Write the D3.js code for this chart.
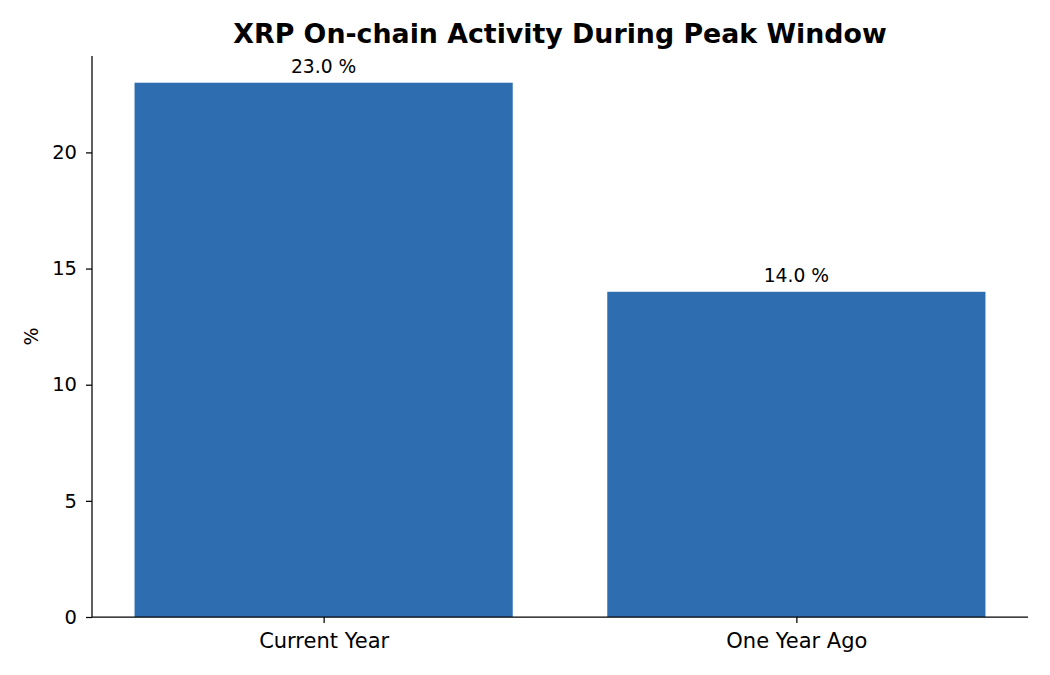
<!DOCTYPE html>
<html>
<head>
<meta charset="utf-8">
<script src="https://cdn.jsdelivr.net/npm/d3@7"></script>
<style>
  body { margin: 0; background: #fff; }
  svg { font-family: "DejaVu Sans", sans-serif; }
  .axis path, .axis line { stroke: #000; stroke-width: 1.25; }
  .axis text { fill: #000; font-family: "DejaVu Sans", sans-serif; }
  .y.axis text { font-size: 19.5px; }
  .x.axis text { font-size: 21px; }
</style>
</head>
<body>
<div id="chart"></div>
<script>
var categories = ["Current Year", "One Year Ago"];
var values = [23.0, 14.0];
var yTicks = [0, 5, 10, 15, 20];

var width = 1050, height = 675;
var margin = { top: 56, right: 22, bottom: 58, left: 92 };
var innerW = width - margin.left - margin.right,
    innerH = height - margin.top - margin.bottom;

var svg = d3.select("#chart")
  .append("svg")
  .attr("width", width)
  .attr("height", height);

var g = svg.append("g")
  .attr("transform", "translate(" + margin.left + "," + margin.top + ")");

// matplotlib-like limits: bars at 0..n-1, width 0.8, 5% margins
var n = categories.length;
var x = d3.scaleLinear()
  .domain([-0.4 - 0.05 * (n - 1 + 0.8), n - 1 + 0.4 + 0.05 * (n - 1 + 0.8)])
  .range([0, innerW]);

var y = d3.scaleLinear()
  .domain([0, d3.max(values) * 1.05])
  .range([innerH, 0]);

var barW = x(0.8) - x(0);

g.selectAll("rect.bar")
  .data(values)
  .enter().append("rect")
  .attr("class", "bar")
  .attr("x", function(d, i) { return x(i) - barW / 2; })
  .attr("y", function(d) { return y(d); })
  .attr("width", barW)
  .attr("height", function(d) { return innerH - y(d); })
  .attr("fill", "#2d6db0");

g.selectAll("text.label")
  .data(values)
  .enter().append("text")
  .attr("class", "label")
  .attr("x", function(d, i) { return x(i); })
  .attr("y", function(d) { return y(d) - 9.5; })
  .attr("text-anchor", "middle")
  .style("font-size", "18.7px")
  .text(function(d) { return d.toFixed(1) + " %"; });

// Axes
var yAxis = g.append("g")
  .attr("class", "y axis")
  .call(d3.axisLeft(y).tickValues(yTicks).tickSize(6).tickPadding(9).tickFormat(d3.format("d")));

var xAxis = g.append("g")
  .attr("class", "x axis")
  .attr("transform", "translate(0," + innerH + ")")
  .call(d3.axisBottom(x).tickValues(d3.range(n)).tickSize(6).tickPadding(10)
    .tickFormat(function(i) { return categories[i]; }));

yAxis.select(".domain").attr("d", "M0," + innerH + "V0");
xAxis.select(".domain").attr("d", "M0,0H" + innerW);
svg.selectAll(".axis").attr("font-family", null).attr("font-size", null);

// y label
svg.append("text")
  .attr("transform", "translate(38," + (margin.top + innerH / 2) + ") rotate(-90)")
  .attr("text-anchor", "middle")
  .style("font-size", "19px")
  .text("%");

// title
svg.append("text")
  .attr("x", margin.left + innerW / 2)
  .attr("y", 43)
  .attr("text-anchor", "middle")
  .style("font-size", "26.8px")
  .style("font-weight", "bold")
  .text("XRP On-chain Activity During Peak Window");
</script>
</body>
</html>
